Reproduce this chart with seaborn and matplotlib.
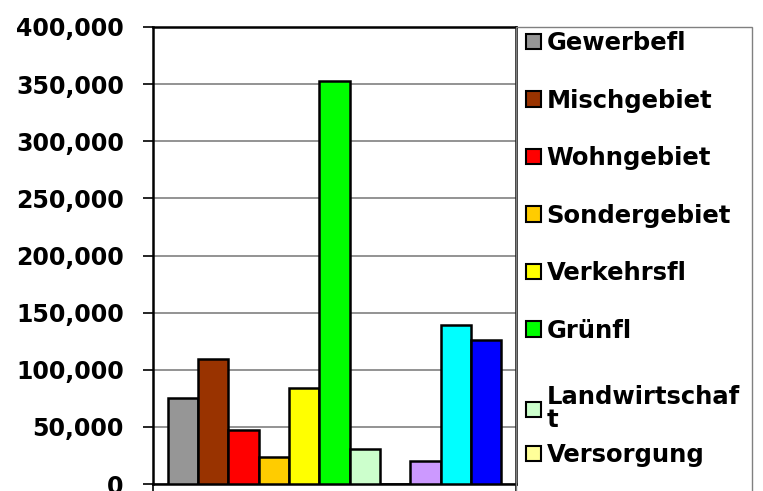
import matplotlib
matplotlib.use("Agg")
import matplotlib.pyplot as plt
import matplotlib.patches as mpatches
from matplotlib.ticker import FuncFormatter
import seaborn as sns
import pandas as pd

series = ["Gewerbefl", "Mischgebiet", "Wohngebiet", "Sondergebiet", "Verkehrsfl",
          "Grünfl", "Landwirtschaft", "Versorgung", "Serie 9", "Serie 10", "Serie 11"]
legend_labels = ["Gewerbefl", "Mischgebiet", "Wohngebiet", "Sondergebiet", "Verkehrsfl",
                 "Grünfl", "Landwirtschaf\nt", "Versorgung"]
values = [75000, 109000, 47000, 24000, 84000, 353000, 31000, 0, 20000, 139000, 126000]
colors = ["#969696", "#993300", "#FF0000", "#FFCC00", "#FFFF00", "#00FF00",
          "#CCFFCC", "#FFFF99", "#CC99FF", "#00FFFF", "#0000FF"]
yticks = [0, 50000, 100000, 150000, 200000, 250000, 300000, 350000, 400000]

df = pd.DataFrame({"group": [""] * len(series), "series": series, "value": values})

sns.set_style("white")
plt.rcParams["font.family"] = ["DejaVu Sans"]
plt.rcParams["font.weight"] = "bold"
plt.rcParams["text.color"] = "black"
plt.rcParams["ytick.color"] = "black"
plt.rcParams["xtick.color"] = "black"

W, H = 763, 491
fig = plt.figure(figsize=(W / 100, H / 100), dpi=100)
ax = fig.add_axes([153 / W, 1 - 484 / H, (516 - 153) / W, (484 - 27) / H])

sns.barplot(data=df, x="group", y="value", hue="series", hue_order=series,
            palette=colors, saturation=1, edgecolor="black", linewidth=1.8,
            legend=False, ax=ax, zorder=3)

ax.set_xlim(-0.435, 0.435)
ax.set_ylim(0, 400000)
ax.set_yticks(yticks)
ax.yaxis.set_major_formatter(FuncFormatter(lambda v, p: f"{int(v):,}"))
ax.set_xticks([-0.435, 0.435])
ax.set_xticklabels([])
ax.set_xlabel("")
ax.set_ylabel("")
ax.grid(axis="y", color="#808080", linewidth=1.2, zorder=0)
ax.set_axisbelow(True)
for s in ax.spines.values():
    s.set_color("black")
    s.set_linewidth(1.8)
ax.tick_params(axis="y", direction="out", length=7, width=1.2, colors="black",
               labelsize=17, pad=14, left=True)
ax.tick_params(axis="x", direction="out", length=6, width=1.2, colors="black", bottom=True)
for lab in ax.get_yticklabels():
    lab.set_fontweight("bold")
    lab.set_color("black")

# legend box
box = mpatches.Rectangle((516 / W, -0.05), (752 - 516) / W, 1 - 27 / H + 0.05,
                         transform=fig.transFigure, facecolor="none",
                         edgecolor="#808080", linewidth=1.0)
fig.patches.append(box)

handles = [mpatches.Patch(facecolor=c, edgecolor="black", linewidth=1.5) for c in colors[:8]]
common = dict(loc="upper left", frameon=False, prop={"size": 17.5, "weight": "bold"},
              handlelength=0.6, handleheight=0.6, handletextpad=0.25,
              borderpad=0, borderaxespad=0)
leg1 = fig.legend(handles[:6], legend_labels[:6],
                  bbox_to_anchor=(526 / W, 1 - 31 / H), labelspacing=1.38, **common)
leg2 = fig.legend(handles[6:], legend_labels[6:],
                  bbox_to_anchor=(526 / W, 1 - 385 / H), labelspacing=0.45, **common)
for lg in (leg1, leg2):
    for t in lg.get_texts():
        t.set_color("black")
leg2.get_texts()[0].set_linespacing(0.95)

fig.savefig("out.png", dpi=100)
